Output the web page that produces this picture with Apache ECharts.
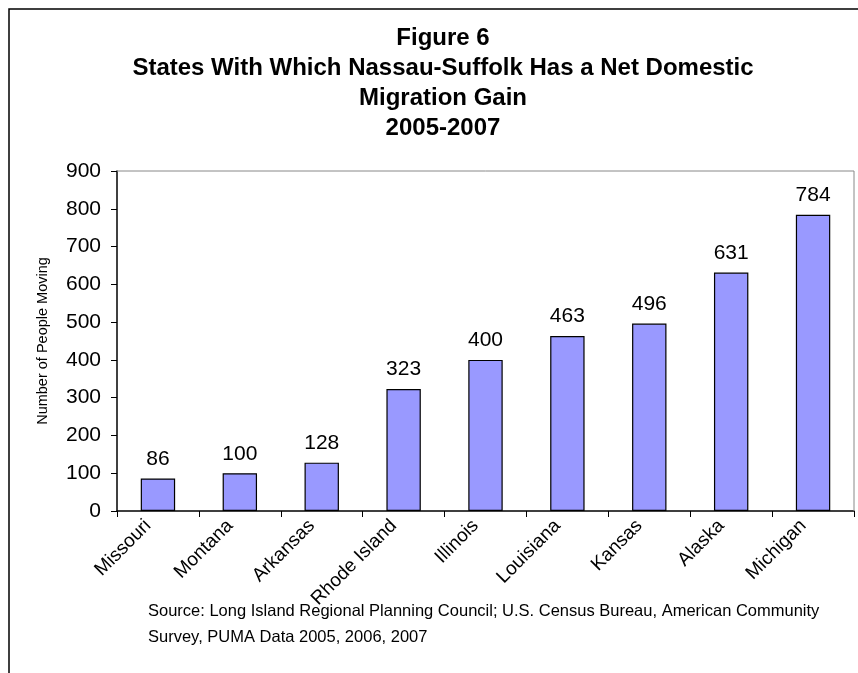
<!DOCTYPE html>
<html>
<head>
<meta charset="utf-8">
<script src="https://cdn.jsdelivr.net/npm/echarts@6/dist/echarts.min.js"></script>
<style>
  html, body { margin: 0; padding: 0; background: #fff; }
  #chart { width: 858px; height: 673px; }
</style>
</head>
<body>
<div id="chart"></div>
<script>
// Net domestic migration gain by state, 2005-2007
const states = ['Missouri', 'Montana', 'Arkansas', 'Rhode Island', 'Illinois', 'Louisiana', 'Kansas', 'Alaska', 'Michigan'];
const peopleMoving = [86, 100, 128, 323, 400, 463, 496, 631, 784];
const yTicks = [0, 900, 100];
const titleLines = ['Figure 6', 'States With Which Nassau-Suffolk Has a Net Domestic', 'Migration Gain', '2005-2007'];
const sourceLines = ['Source: Long Island Regional Planning Council; U.S. Census Bureau, American Community', 'Survey, PUMA Data 2005, 2006, 2007'];

const FONT = '"Liberation Sans", Arial, sans-serif';
const chart = echarts.init(document.getElementById('chart'), null, { renderer: 'canvas' });

const graphics = [
  // outer frame
  { type: 'rect', shape: { x: 9, y: 9, width: 900, height: 700 }, style: { fill: 'none', stroke: '#000', lineWidth: 1.5 }, silent: true, z: 0 },
  // top and right edges of the plot box
  { type: 'polyline', shape: { points: [[117, 171], [854, 171], [854, 511]] }, style: { stroke: '#888', lineWidth: 1, fill: 'none' }, z: 1 }
];
titleLines.forEach((t, i) => {
  graphics.push({
    type: 'text', x: 443, y: 38 + i * 30,
    style: { text: t, font: 'bold 24px ' + FONT, fill: '#000', align: 'center', verticalAlign: 'middle' }
  });
});
sourceLines.forEach((t, i) => {
  graphics.push({ type: 'text', left: 148, top: 603 + i * 26, style: { text: t, font: '16.5px ' + FONT, fill: '#000' } });
});

chart.setOption({
  animation: false,
  backgroundColor: '#fff',
  grid: { left: 117, top: 171, right: 4, bottom: 162, containLabel: false },
  xAxis: {
    type: 'category',
    data: states,
    boundaryGap: true,
    axisLine: { lineStyle: { color: '#000', width: 1.5 } },
    axisTick: { show: true, inside: false, length: 6, alignWithLabel: false, lineStyle: { color: '#000' } },
    axisLabel: { rotate: 45, fontSize: 19, fontFamily: FONT, color: '#000', margin: 2, interval: 0, padding: [0, 14, 0, 0] }
  },
  yAxis: {
    type: 'value',
    min: yTicks[0], max: yTicks[1], interval: yTicks[2],
    name: 'Number of People Moving',
    nameLocation: 'middle',
    nameGap: 67,
    nameTextStyle: { fontSize: 14.5, fontFamily: FONT, color: '#000' },
    axisLine: { show: true, lineStyle: { color: '#000', width: 1.5 } },
    axisTick: { show: true, length: 6, lineStyle: { color: '#000' } },
    axisLabel: { fontSize: 21, fontFamily: FONT, color: '#000', margin: 16 },
    splitLine: { show: false }
  },
  series: [{
    type: 'bar',
    data: peopleMoving,
    barWidth: '42%',
    itemStyle: { color: '#9999FF', borderColor: '#000', borderWidth: 1.2 },
    label: { show: true, position: 'top', distance: 9, fontSize: 21, fontFamily: FONT, color: '#000' }
  }],
  graphic: graphics
});
</script>
</body>
</html>
